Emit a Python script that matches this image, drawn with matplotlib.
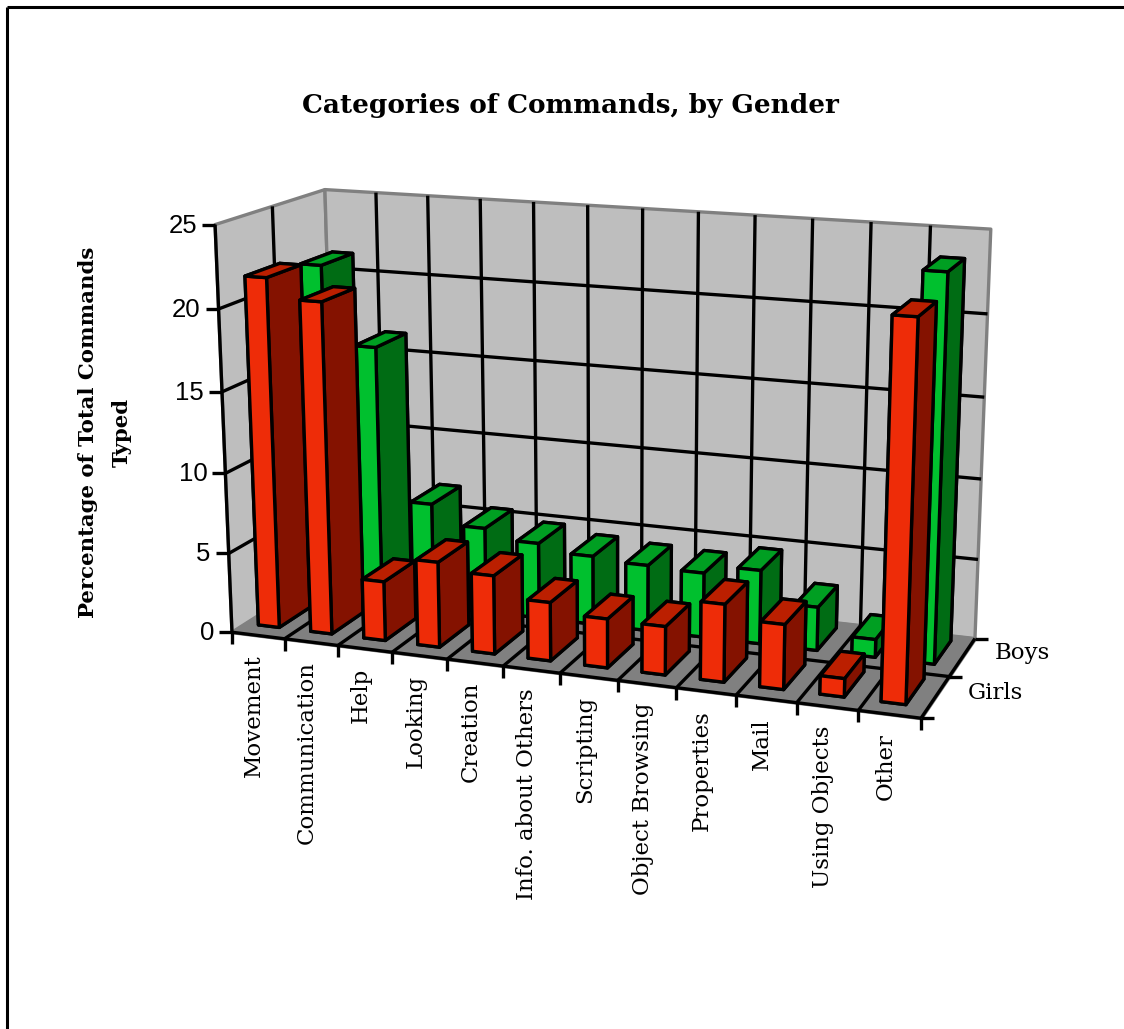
import numpy as np
import matplotlib
matplotlib.use('Agg')
import matplotlib.pyplot as plt
from matplotlib.lines import Line2D
from mpl_toolkits.mplot3d.art3d import Poly3DCollection, Line3DCollection

W, H = 1124, 1029

# data
categories = ['Movement', 'Communication', 'Help', 'Looking', 'Creation',
              'Info. about Others', 'Scripting', 'Object Browsing',
              'Properties', 'Mail', 'Using Objects', 'Other']
girls = [21.7, 20.5, 3.7, 5.3, 4.85, 3.6, 3.0, 2.95, 4.7, 3.9, 1.1, 22.15]
boys = [21.2, 16.3, 6.6, 5.4, 4.8, 4.35, 4.15, 4.05, 4.6, 2.7, 1.1, 23.35]
rows = ['Girls', 'Boys']
z_ticks = [0, 5, 10, 15, 20, 25]

RED = ['#bb1f00', '#bb1f00', '#ee2c08', '#841200', '#841200', '#841200']
GREEN = ['#009f22', '#009f22', '#00c02e', '#006c14', '#006c14', '#006c14']
WALL = '#bebebe'
FLOOR = '#808080'
LW = 2.4

# camera: solve the projection from landmarks of the chart box
n_cat = len(categories)
n_row = len(rows)
z_top = z_ticks[-1]
landmarks = [((0, 0, 0), (232, 631)), ((0, 0, 5), (228, 551)), ((0, 0, 10), (225, 472)),
             ((0, 0, 15), (222, 391)), ((0, 0, 20), (219, 311)), ((0, 0, 25), (215.7, 226)),
             ((0, 2, 25), (325, 188)), ((0, 2, 0), (338, 570)),
             ((12, 2, 25), (992, 231)), ((12, 2, 20), (987, 314)), ((12, 2, 15), (985, 396)),
             ((12, 2, 10), (982, 478)), ((12, 2, 5), (978, 559)), ((12, 2, 0), (973, 637)),
             ((12, 0, 0), (922.7, 718)), ((3, 0, 0), (391.7, 651.7)), ((6, 0, 0), (560, 675)),
             ((9, 0, 0), (735, 696.7)), ((1, 2, 25), (375, 191.5)), ((6, 2, 25), (642, 208.4)),
             ((9, 2, 25), (812, 219.4))]
A = []
for (x, y, z), (u, v) in landmarks:
    A.append([x, y, z, 1, 0, 0, 0, 0, -u * x, -u * y, -u * z, -u])
    A.append([0, 0, 0, 0, x, y, z, 1, -v * x, -v * y, -v * z, -v])
P = np.linalg.svd(np.array(A, dtype=float))[2][-1].reshape(3, 4)
if P[2, 3] < 0:
    P = -P
M = np.vstack([P[0], P[1], P[2] - [0, 0, 0, P[2, 3] * 0.5], P[2]])


def to_px(x, y, z):
    p = P @ np.array([x, y, z, 1.0])
    return p[0] / p[2], p[1] / p[2]


def fig_text(px, py, s, **kw):
    fig.text(px / W, 1 - py / H, s, **kw)


def fig_line(x0, y0, x1, y1, color='k', lw=LW):
    fig.add_artist(Line2D([x0 / W, x1 / W], [1 - y0 / H, 1 - y1 / H], color=color, lw=lw,
                          solid_capstyle='butt'))


fig = plt.figure(figsize=(W / 100, H / 100), dpi=100, facecolor='white')
ax = fig.add_axes([0, 0, 1, 1], projection='3d')
ax.set_axis_off()
ax.computed_zorder = False
ax.patch.set_visible(False)
ax.get_proj = lambda: M
ax.viewLim.intervalx = ((W - H) / 2, (W + H) / 2)
ax.viewLim.intervaly = (H, 0)

# walls and floor
left_wall = [(0, 0, 0), (0, n_row, 0), (0, n_row, z_top), (0, 0, z_top)]
back_wall = [(0, n_row, 0), (n_cat, n_row, 0), (n_cat, n_row, z_top), (0, n_row, z_top)]
floor = [(0, 0, 0), (n_cat, 0, 0), (n_cat, n_row, 0), (0, n_row, 0)]
ax.add_collection3d(Poly3DCollection([left_wall, back_wall], facecolors=WALL, edgecolors=FLOOR,
                                     linewidths=LW, zorder=1))
ax.add_collection3d(Poly3DCollection([floor], facecolors=FLOOR, edgecolors=FLOOR,
                                     linewidths=LW, zorder=2))

# grid
segs = []
for z in z_ticks[1:-1]:
    segs.append([(0, 0, z), (0, n_row, z)])
    segs.append([(0, n_row, z), (n_cat, n_row, z)])
for i in range(1, n_cat):
    segs.append([(i, n_row, 0), (i, n_row, z_top)])
    segs.append([(i, 0, 0), (i, n_row, 0)])
for j in range(1, n_row):
    segs.append([(0, j, 0), (0, j, z_top)])
    segs.append([(0, j, 0), (n_cat, j, 0)])
segs.append([(0, 0, 0), (n_cat, 0, 0)])
segs.append([(n_cat, 0, 0), (n_cat, n_row, 0)])
segs.append([(0, 0, 0), (0, 0, z_top)])
ax.add_collection3d(Line3DCollection(segs, colors='k', linewidths=LW, zorder=3))

# bars, back row first
order = 10
for j, (vals, cols) in reversed(list(enumerate([(girls, RED), (boys, GREEN)]))):
    for i, v in enumerate(vals):
        ax.bar3d(i + 0.24, j + 0.25, 0, 0.40, 0.62, v, color=cols, shade=False,
                 edgecolor='k', linewidth=LW, zsort='average', zorder=order)
        order += 1

# ticks and their labels
for z in z_ticks:
    px, py = to_px(0, 0, z)
    fig_line(px - 13, py, px, py)
    fig_text(px - 18, py + 1, str(z), ha='right', va='center', family='Liberation Sans', fontsize=18.5)
for i in range(n_cat + 1):
    px, py = to_px(i, 0, 0)
    fig_line(px, py, px, py + 12)
for i, name in enumerate(categories):
    px, py = to_px(i + 0.5, 0, 0)
    fig_text(px - 4, py + 19, name, rotation=90, ha='center', va='top',
             family='DejaVu Serif', fontsize=16.5)
for j in range(n_row + 1):
    px, py = to_px(n_cat, j, 0)
    fig_line(px, py, px + 13, py)
for j, name in enumerate(rows):
    px, py = to_px(n_cat, j + 0.5, 0)
    fig_text(px + 32, py - 4, name, ha='left', va='center', family='DejaVu Serif', fontsize=16.5)

fig_text(570, 105, 'Categories of Commands, by Gender', ha='center', va='center',
         family='DejaVu Serif', weight='bold', fontsize=18.9)
fig_text(105, 432, 'Percentage of Total Commands\nTyped', rotation=90, ha='center', va='center',
         multialignment='center', family='DejaVu Serif', weight='bold', fontsize=15.3, linespacing=1.9)

# page border
fig_line(7, 7, W, 7, lw=2.2)
fig_line(7, 7, 7, H, lw=2.2)

fig.savefig('out.png', dpi=100)
